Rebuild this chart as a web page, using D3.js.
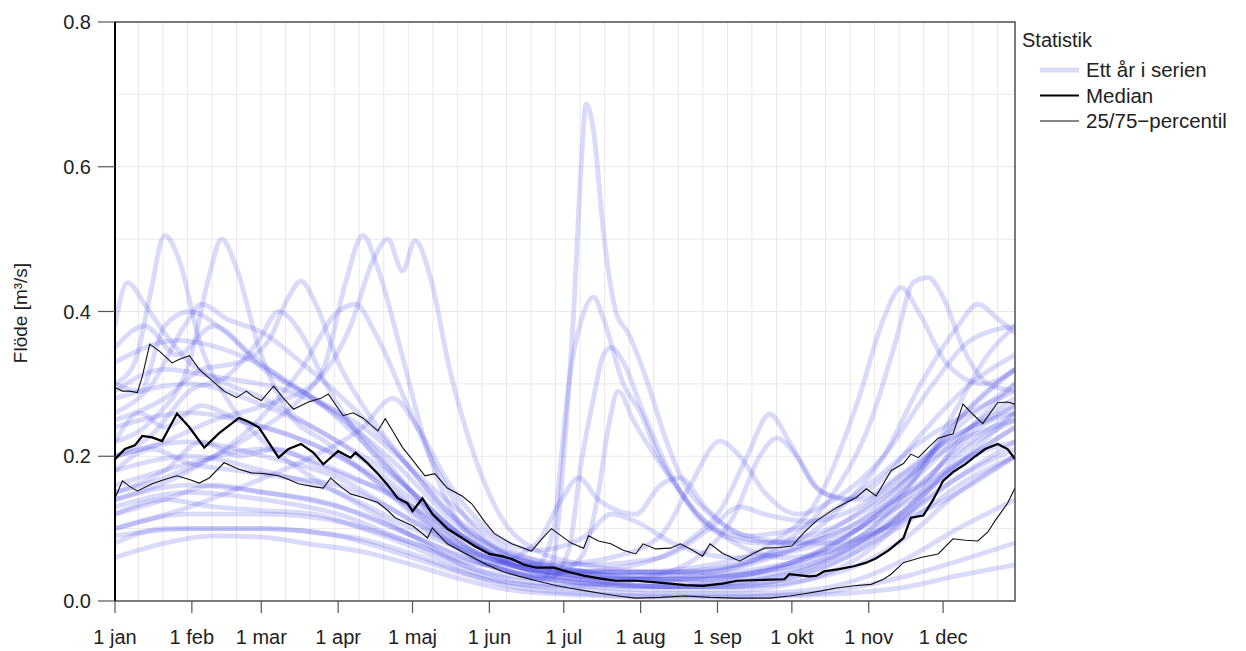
<!DOCTYPE html>
<html>
<head>
<meta charset="utf-8">
<script src="https://cdn.jsdelivr.net/npm/d3@7"></script>
<style>
  body { margin: 0; background: #fff; }
  svg { font-family: "Liberation Sans", Arial, sans-serif; }
</style>
</head>
<body>
<svg id="chart" width="1246" height="651"></svg>
<script>
// month ticks (day of year) and their labels
let monthDays = [0, 31, 59, 90, 120, 151, 181, 212, 243, 273, 304, 334];
let monthLabels = ['1 jan', '1 feb', '1 mar', '1 apr', '1 maj', '1 jun', '1 jul', '1 aug', '1 sep', '1 okt', '1 nov', '1 dec'];
let gridDays = d3.range(9.4, 363, 9.9);
let yTicks = [0, 0.2, 0.4, 0.6, 0.8];
let yGrid = [0.1, 0.2, 0.3, 0.4, 0.5, 0.6, 0.7];

// one array per year: [day, flow]
let years = [
  [[0,.30],[8,.33],[14,.42],[20,.505],[26,.47],[34,.36],[45,.28],[60,.22],[80,.17],[100,.13],[120,.09],[140,.05],[160,.03],[190,.02],[220,.015],[250,.015],[280,.03],[300,.06],[320,.12],[340,.20],[363,.25]],
  [[0,.22],[15,.25],[30,.33],[38,.45],[43,.50],[49,.46],[58,.35],[70,.26],[85,.22],[100,.18],[120,.12],[140,.07],[160,.04],[190,.025],[220,.02],[250,.03],[280,.05],[300,.08],[320,.13],[340,.22],[363,.30]],
  [[0,.15],[20,.17],[40,.2],[60,.24],[75,.28],[85,.33],[93,.44],[100,.505],[106,.46],[115,.35],[125,.22],[135,.13],[150,.07],[170,.04],[200,.025],[230,.02],[260,.03],[290,.06],[310,.1],[330,.16],[350,.22],[363,.26]],
  [[0,.2],[20,.22],[40,.25],[60,.27],[80,.3],[95,.38],[104,.47],[110,.50],[116,.456],[121,.498],[127,.45],[135,.32],[145,.2],[155,.12],[170,.07],[190,.05],[220,.04],[250,.05],[280,.08],[300,.11],[320,.17],[340,.25],[363,.32]],
  [[0,.38],[5,.44],[12,.41],[20,.37],[30,.33],[45,.3],[60,.28],[75,.25],[90,.22],[105,.19],[120,.15],[140,.09],[160,.05],[190,.03],[220,.02],[250,.02],[280,.04],[300,.07],[320,.11],[345,.17],[363,.2]],
  [[0,.25],[20,.28],[35,.32],[50,.33],[62,.36],[70,.42],[75,.442],[81,.41],[90,.33],[100,.27],[115,.2],[130,.14],[150,.08],[170,.05],[200,.03],[230,.03],[260,.04],[285,.06],[305,.1],[325,.16],[345,.23],[363,.27]],
  [[0,.12],[20,.14],[40,.16],[60,.15],[80,.14],[100,.12],[120,.09],[140,.06],[160,.04],[172,.03],[177,.06],[181,.2],[185,.4],[188,.6],[190,.687],[193,.65],[197,.51],[202,.4],[207,.37],[215,.3],[221,.235],[229,.166],[240,.12],[255,.09],[275,.08],[295,.1],[315,.14],[335,.18],[363,.24]],
  [[0,.18],[30,.2],[60,.18],[90,.15],[120,.1],[150,.06],[170,.05],[177,.1],[180,.2],[183,.3],[188,.387],[193,.42],[197,.39],[205,.3],[212,.26],[218,.21],[228,.15],[240,.1],[260,.08],[280,.09],[300,.12],[320,.17],[340,.24],[363,.3]],
  [[0,.1],[30,.12],[60,.12],[90,.11],[120,.08],[150,.04],[175,.03],[183,.07],[188,.19],[193,.28],[197,.34],[200,.35],[205,.33],[212,.27],[222,.19],[235,.12],[250,.09],[270,.08],[290,.08],[310,.1],[335,.14],[363,.2]],
  [[0,.14],[30,.16],[60,.15],[90,.13],[120,.09],[150,.05],[175,.035],[188,.06],[195,.15],[199,.24],[203,.29],[209,.25],[216,.21],[224,.17],[235,.12],[250,.08],[270,.06],[290,.07],[310,.1],[335,.16],[363,.22]],
  [[0,.16],[30,.19],[60,.21],[90,.18],[120,.13],[150,.07],[175,.05],[200,.06],[220,.09],[232,.16],[244,.221],[252,.2],[262,.15],[275,.12],[290,.14],[310,.2],[330,.3],[345,.36],[363,.38]],
  [[0,.2],[30,.22],[60,.2],[90,.17],[120,.11],[150,.06],[180,.04],[210,.05],[230,.08],[245,.13],[255,.2],[264,.258],[272,.22],[282,.16],[295,.14],[310,.17],[325,.23],[345,.3],[363,.34]],
  [[0,.09],[30,.1],[60,.1],[90,.09],[120,.06],[150,.03],[180,.02],[210,.03],[235,.06],[250,.12],[260,.2],[267,.225],[275,.2],[285,.15],[300,.14],[315,.17],[335,.22],[363,.27]],
  [[0,.24],[30,.26],[60,.24],[90,.2],[120,.13],[150,.06],[180,.04],[210,.04],[240,.05],[265,.08],[285,.15],[300,.28],[310,.39],[317,.433],[324,.4],[335,.33],[350,.3],[363,.32]],
  [[0,.28],[30,.3],[60,.27],[90,.22],[120,.14],[150,.07],[180,.04],[210,.035],[240,.04],[265,.07],[290,.15],[305,.25],[315,.36],[322,.44],[328,.447],[334,.42],[342,.35],[352,.3],[363,.29]],
  [[0,.33],[25,.36],[50,.34],[80,.28],[110,.2],[140,.1],[170,.05],[200,.04],[230,.04],[260,.06],[290,.12],[310,.2],[325,.3],[340,.38],[348,.41],[356,.39],[363,.37]],
  [[0,.29],[20,.32],[40,.31],[70,.29],[100,.24],[130,.15],[160,.07],[190,.04],[220,.03],[250,.04],[280,.06],[305,.1],[325,.18],[340,.27],[352,.34],[363,.38]],
  [[0,.06],[20,.08],[40,.09],[60,.088],[80,.078],[100,.068],[120,.05],[140,.03],[160,.015],[190,.008],[220,.005],[250,.005],[280,.008],[300,.012],[320,.02],[340,.035],[363,.05]],
  [[0,.08],[20,.1],[40,.1],[60,.1],[80,.095],[100,.085],[120,.065],[140,.04],[160,.02],[190,.01],[220,.007],[250,.007],[280,.01],[300,.02],[320,.035],[340,.055],[363,.08]],
  [[0,.12],[20,.14],[40,.13],[60,.125],[80,.12],[100,.1],[120,.075],[140,.045],[160,.025],[190,.015],[220,.01],[250,.01],[280,.015],[300,.03],[320,.06],[340,.1],[363,.14]],
  [[0,.18],[15,.21],[30,.19],[50,.18],[70,.17],[90,.16],[110,.13],[130,.09],[150,.05],[175,.03],[210,.02],[240,.02],[270,.03],[295,.06],[320,.12],[340,.17],[363,.21]],
  [[0,.22],[10,.26],[20,.24],[35,.27],[50,.25],[70,.23],[90,.2],[110,.16],[130,.1],[150,.06],[175,.04],[210,.03],[240,.025],[270,.035],[295,.07],[320,.13],[345,.2],[363,.24]],
  [[0,.35],[12,.38],[25,.34],[40,.38],[55,.34],[70,.3],[90,.26],[110,.19],[130,.11],[150,.06],[175,.04],[210,.03],[240,.03],[270,.05],[300,.1],[320,.16],[345,.24],[363,.28]],
  [[0,.3],[10,.29],[20,.38],[30,.4],[45,.37],[60,.32],[80,.28],[100,.22],[120,.15],[140,.09],[165,.05],[200,.04],[235,.04],[265,.06],[290,.1],[315,.16],[340,.22],[363,.25]],
  [[0,.14],[30,.18],[55,.24],[75,.32],[90,.4],[97,.41],[105,.37],[118,.27],[130,.18],[145,.1],[165,.06],[190,.05],[220,.06],[240,.1],[252,.13],[262,.12],[280,.11],[300,.13],[320,.18],[345,.24],[363,.26]],
  [[0,.1],[30,.13],[60,.17],[80,.2],[100,.24],[112,.28],[122,.24],[135,.16],[150,.1],[170,.07],[190,.09],[200,.12],[210,.11],[225,.08],[250,.06],[275,.07],[300,.1],[325,.15],[345,.2],[363,.22]],
  [[0,.13],[30,.15],[60,.14],[90,.12],[120,.08],[150,.05],[170,.08],[180,.14],[187,.17],[195,.14],[210,.12],[220,.16],[228,.17],[238,.13],[255,.09],[275,.1],[300,.15],[325,.22],[350,.27],[363,.29]],
  [[0,.26],[15,.3],[28,.38],[35,.41],[45,.39],[60,.37],[75,.33],[95,.27],[115,.2],[135,.12],[155,.07],[180,.045],[210,.035],[240,.035],[270,.05],[295,.09],[320,.15],[345,.22],[363,.26]],
  [[0,.2],[15,.23],[30,.29],[45,.31],[58,.36],[66,.4],[75,.37],[85,.3],[100,.22],[120,.15],[140,.09],[160,.05],[190,.03],[220,.03],[250,.035],[280,.06],[300,.1],[320,.16],[340,.25],[355,.3],[363,.32]],
  [[0,.15],[20,.18],[35,.22],[50,.2],[65,.21],[80,.19],[95,.17],[110,.15],[125,.11],[140,.07],[160,.04],[190,.025],[220,.02],[250,.02],[280,.03],[300,.05],[320,.09],[340,.15],[363,.2]]
];

let median = [[0,.196],[4,.21],[8,.215],[11,.228],[15,.226],[19,.221],[25,.259],[30,.24],[36,.212],[42,.232],[50,.253],[53,.249],[58,.24],[66,.198],[70,.21],[75,.217],[80,.205],[84,.189],[90,.207],[95,.198],[97,.205],[102,.19],[106,.176],[110,.16],[114,.142],[118,.135],[120,.124],[124,.142],[128,.12],[134,.1],[140,.087],[145,.076],[151,.065],[156,.062],[160,.058],[165,.05],[170,.046],[177,.046],[183,.04],[189,.035],[196,.031],[202,.028],[210,.028],[217,.026],[224,.024],[230,.022],[237,.021],[245,.024],[251,.028],[260,.029],[270,.03],[272,.037],[280,.034],[283,.035],[286,.041],[292,.044],[298,.048],[303,.053],[307,.059],[312,.07],[318,.087],[321,.115],[326,.118],[330,.14],[334,.166],[338,.178],[343,.189],[347,.2],[351,.21],[356,.217],[360,.21],[363,.196]];

let p75 = [[0,.295],[3,.29],[6,.29],[9,.288],[11,.31],[14,.355],[18,.345],[23,.329],[26,.334],[30,.339],[34,.32],[38,.308],[44,.29],[49,.281],[53,.29],[56,.282],[59,.277],[64,.297],[68,.28],[72,.265],[78,.275],[83,.28],[86,.286],[92,.256],[96,.26],[100,.253],[106,.235],[109,.252],[112,.235],[116,.212],[120,.195],[125,.173],[129,.176],[134,.156],[140,.145],[144,.134],[149,.11],[153,.093],[160,.079],[168,.069],[172,.085],[176,.1],[180,.09],[184,.08],[189,.073],[191,.09],[195,.083],[200,.079],[205,.07],[210,.065],[213,.079],[218,.072],[224,.073],[228,.079],[233,.07],[237,.062],[240,.079],[245,.066],[252,.055],[257,.065],[262,.073],[268,.074],[273,.076],[278,.095],[283,.111],[287,.12],[291,.129],[295,.136],[299,.143],[303,.155],[307,.145],[313,.18],[318,.19],[321,.203],[324,.198],[328,.212],[332,.225],[338,.231],[342,.272],[346,.258],[350,.245],[353,.26],[356,.274],[360,.275],[363,.272]];

let p25 = [[0,.142],[3,.166],[6,.158],[9,.152],[15,.162],[20,.168],[25,.173],[30,.168],[34,.163],[38,.17],[44,.191],[50,.182],[55,.177],[60,.176],[66,.173],[70,.168],[74,.162],[80,.158],[84,.156],[87,.17],[91,.158],[95,.148],[100,.143],[106,.136],[110,.125],[113,.115],[120,.104],[124,.093],[126,.087],[128,.101],[134,.079],[140,.068],[145,.059],[150,.05],[156,.041],[163,.034],[170,.028],[177,.022],[183,.018],[190,.014],[197,.01],[203,.007],[210,.004],[220,.005],[230,.007],[240,.005],[250,.004],[264,.004],[272,.007],[278,.01],[285,.014],[291,.018],[298,.021],[305,.023],[310,.03],[313,.037],[318,.053],[325,.06],[332,.065],[338,.086],[343,.084],[348,.083],[352,.095],[355,.111],[360,.135],[363,.156]];

let legendItems = ['Ett år i serien', 'Median', '25/75\u2212percentil'];

let svg = d3.select('#chart');
let mLeft = 115, mRight = 1015, mTop = 22, mBottom = 601;

let x = d3.scaleLinear().domain([0, 363]).range([mLeft, mRight]);
let y = d3.scaleLinear().domain([0, 0.8]).range([mBottom, mTop]);

// grid
svg.append('g').selectAll('line').data(gridDays).enter().append('line')
  .attr('x1', d => x(d)).attr('x2', d => x(d)).attr('y1', mTop).attr('y2', mBottom)
  .attr('stroke', '#e8e8e8').attr('stroke-width', 1);
svg.append('g').selectAll('line').data(yGrid).enter().append('line')
  .attr('x1', mLeft).attr('x2', mRight).attr('y1', d => y(d)).attr('y2', d => y(d))
  .attr('stroke', '#e8e8e8').attr('stroke-width', 1);

svg.append('clipPath').attr('id', 'plot')
  .append('rect').attr('x', mLeft).attr('y', mTop).attr('width', mRight - mLeft).attr('height', mBottom - mTop);

let g = svg.append('g').attr('clip-path', 'url(#plot)');

let smooth = d3.line().x(d => x(d[0])).y(d => y(d[1])).curve(d3.curveMonotoneX);
let jag = d3.line().x(d => x(d[0])).y(d => y(d[1]));

g.selectAll('path.year').data(years).enter().append('path')
  .attr('class', 'year')
  .attr('d', smooth)
  .attr('fill', 'none')
  .attr('stroke', 'rgb(70,70,230)')
  .attr('stroke-opacity', 0.2)
  .attr('stroke-width', 4.8)
  .attr('stroke-linejoin', 'round');

[p25, p75].forEach(function(p) {
  g.append('path').attr('d', jag(p)).attr('fill', 'none')
    .attr('stroke', '#111').attr('stroke-width', 1.1);
});
g.append('path').attr('d', jag(median)).attr('fill', 'none')
  .attr('stroke', '#000').attr('stroke-width', 2.2);

// frame
svg.append('rect').attr('x', mLeft).attr('y', mTop).attr('width', mRight - mLeft).attr('height', mBottom - mTop)
  .attr('fill', 'none').attr('stroke', '#333').attr('stroke-width', 1.3);
svg.append('line').attr('x1', mLeft).attr('x2', mLeft).attr('y1', mTop).attr('y2', mBottom)
  .attr('stroke', '#000').attr('stroke-width', 2);

// y axis
let yAxis = svg.append('g');
yAxis.selectAll('line').data(yTicks).enter().append('line')
  .attr('x1', mLeft - 17).attr('x2', mLeft).attr('y1', d => y(d)).attr('y2', d => y(d))
  .attr('stroke', '#555').attr('stroke-width', 1.2);
yAxis.selectAll('text').data(yTicks).enter().append('text')
  .attr('x', mLeft - 24).attr('y', d => y(d)).attr('dy', '0.35em')
  .attr('text-anchor', 'end').attr('font-size', 20).attr('fill', '#222')
  .text(d => d3.format('.1f')(d));

svg.append('text')
  .attr('transform', 'translate(27,' + 313 + ') rotate(-90)')
  .attr('text-anchor', 'middle').attr('font-size', 19).attr('fill', '#222')
  .text('Flöde [m³/s]');

// x axis
let xAxis = svg.append('g');
xAxis.selectAll('line').data(monthDays).enter().append('line')
  .attr('x1', d => x(d)).attr('x2', d => x(d)).attr('y1', mBottom).attr('y2', mBottom + 12)
  .attr('stroke', '#555').attr('stroke-width', 1.2);
xAxis.selectAll('text').data(monthDays).enter().append('text')
  .attr('x', d => x(d)).attr('y', 644)
  .attr('text-anchor', 'middle').attr('font-size', 20).attr('fill', '#222')
  .text((d, i) => monthLabels[i]);

// legend
let lg = svg.append('g');
lg.append('text').attr('x', 1022).attr('y', 47).attr('font-size', 20).attr('fill', '#222').text('Statistik');
let styles = [
  {stroke: 'rgb(70,70,230)', op: 0.2, w: 5},
  {stroke: '#000', op: 1, w: 2.2},
  {stroke: '#111', op: 1, w: 1.1}
];
legendItems.forEach(function(t, i) {
  let yy = 70 + i * 25.5;
  lg.append('line').attr('x1', 1040).attr('x2', 1079).attr('y1', yy).attr('y2', yy)
    .attr('stroke', styles[i].stroke).attr('stroke-opacity', styles[i].op).attr('stroke-width', styles[i].w);
  lg.append('text').attr('x', 1086).attr('y', yy).attr('dy', '0.35em')
    .attr('font-size', 20.5).attr('fill', '#222').text(t);
});
</script>
</body>
</html>
